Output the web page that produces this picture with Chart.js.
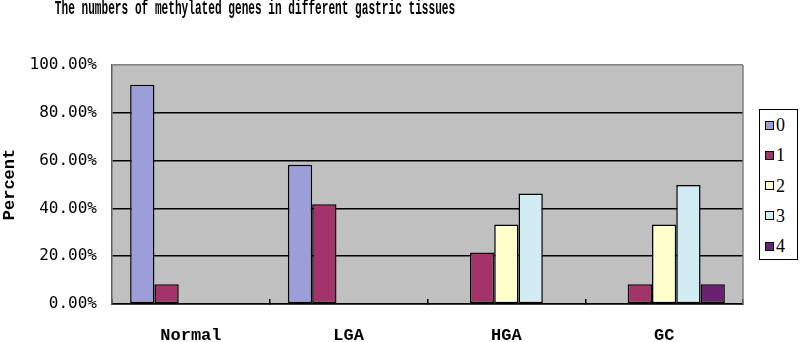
<!DOCTYPE html>
<html><head><meta charset="utf-8">
<script src="https://cdn.jsdelivr.net/npm/chart.js@4/dist/chart.umd.min.js"></script>
<style>
html,body{margin:0;padding:0;background:#fff;}
#wrap{position:relative;width:800px;height:342px;overflow:hidden;}
#c{position:absolute;left:0;top:0;}
#title{position:absolute;left:-145px;top:-1px;width:800px;text-align:center;font:bold 20px "Liberation Mono";line-height:20px;white-space:nowrap;transform:scaleX(0.556);transform-origin:400px 0;color:#000;z-index:2;}
#legend{position:absolute;left:759px;top:109px;width:37px;height:149px;border:1.5px solid #000;background:#fff;z-index:2;}
.item{position:absolute;left:5px;height:22px;display:flex;align-items:center;}
.sw{width:7px;height:7px;border:1px solid #000;margin-right:2px;}
.lab{font:18px "Liberation Serif";color:#000;line-height:22px;}
</style>
</head><body>
<div id="wrap">
<canvas id="c" width="800" height="342"></canvas>
<div id="title">The numbers of methylated genes in different gastric tissues</div>
<div id="legend"></div>
</div>
<script>
const categories=['Normal','LGA','HGA','GC'];
const seriesNames=['0','1','2','3','4'];
const s0=[91.7,58.3,0,0];
const s1=[8.3,41.7,21.6,8.3];
const s2=[0,0,33.3,33.3];
const s3=[0,0,46.2,49.8];
const s4=[0,0,0,8.3];
const yTicks=[0,20,40,60,80,100];
const colors=['#9b9ed8','#a3336b','#ffffcc','#d2ecf4','#6b2173'];
const seriesData=[s0,s1,s2,s3,s4];

const legend=document.getElementById('legend');
seriesNames.forEach((n,i)=>{
  const d=document.createElement('div');d.className='item';
  d.style.top=(4+i*30.3)+'px';
  d.innerHTML='<span class="sw" style="background:'+colors[i]+'"></span><span class="lab">'+n+'</span>';
  legend.appendChild(d);
});

const bgPlugin={id:'bg',
  beforeDraw(c){const {ctx,chartArea:a}=c;ctx.save();ctx.fillStyle='#c0c0c0';ctx.fillRect(a.left,a.top,a.width,a.height);ctx.restore();},
  beforeDatasetsDraw(c){const {ctx,chartArea:a}=c;ctx.save();ctx.strokeStyle='#808080';ctx.lineWidth=1.5;ctx.beginPath();ctx.moveTo(a.right,a.top);ctx.lineTo(a.right,a.bottom);ctx.stroke();ctx.restore();}
};

new Chart(document.getElementById('c'),{
  type:'bar',
  data:{labels:categories,datasets:seriesData.map((d,i)=>({label:seriesNames[i],data:d,backgroundColor:colors[i],borderColor:'#000',borderWidth:1.5,borderSkipped:false,categoryPercentage:0.77,barPercentage:1}))},
  options:{
    responsive:false,animation:false,
    layout:{padding:{top:65,right:57,left:0,bottom:0}},
    plugins:{legend:{display:false},tooltip:{enabled:false},title:{display:false}},
    scales:{
      x:{grid:{offset:true,drawOnChartArea:false,drawTicks:true,tickLength:-5,color:'#000',lineWidth:1.5},
         border:{display:true,color:'#000',width:1.5},
         ticks:{padding:27,font:{family:'Liberation Mono',weight:'bold',size:17},color:'#000',maxRotation:0},
         afterFit(s){s.height=38;}},
      y:{min:0,max:100,
         afterBuildTicks(s){s.ticks=yTicks.map(v=>({value:v}));},
         ticks:{padding:15,callback:v=>Number(v).toFixed(2)+'%',font:{family:'DejaVu Sans Mono',size:16},color:'#000'},
         grid:{drawTicks:false,color:c=>c.tick&&c.tick.value===100?'#808080':'#000',lineWidth:1.5},
         border:{color:'#606060',width:1.5},
         title:{display:true,text:'Percent',font:{family:'Liberation Mono',weight:'bold',size:17},color:'#000',padding:0},
         afterFit(s){s.width=112;}}
    }
  },
  plugins:[bgPlugin]
});
</script>
</body></html>
